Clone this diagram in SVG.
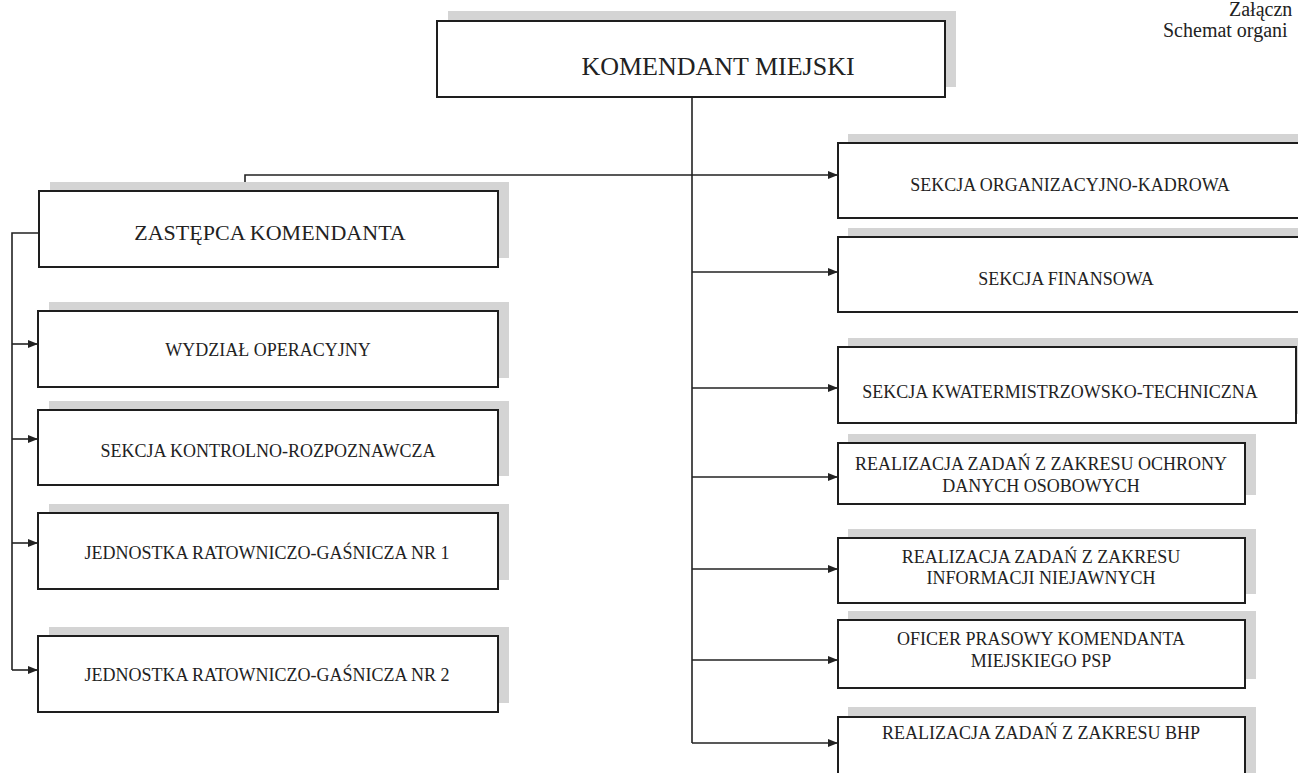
<svg xmlns="http://www.w3.org/2000/svg" width="1298" height="773" viewBox="0 0 1298 773">
<style>
.bg{fill:#fff}
.shadow{fill:#d4d4d4}
.box{fill:#fff;stroke:#1e1e1e;stroke-width:2}
.t{font-family:"Liberation Serif","Times New Roman",serif;fill:#222;text-anchor:middle;font-size:18px}
.big{font-size:22px}
.huge{font-size:26px}
.hdr{font-family:"Liberation Serif","Times New Roman",serif;fill:#222;font-size:20px}
.conn{fill:none;stroke:#222;stroke-width:1.6}
.arr{marker-end:url(#ah)}
</style>
<defs>
<marker id="ah" markerWidth="10" markerHeight="8" refX="10" refY="4" orient="auto" markerUnits="userSpaceOnUse">
<path d="M0,0 L10,4 L0,8 z" fill="#222"/>
</marker>
</defs>
<rect class="bg" x="0" y="0" width="1298" height="773"/>

<g id="header">
<text class="hdr" x="1229" y="16">Załączn</text>
<text class="hdr" x="1163" y="37">Schemat organi</text>
</g>

<g id="connectors">
<path class="conn" d="M692,97 V743"/>
<path class="conn arr" d="M245,191 V175 H838"/>
<path class="conn arr" d="M692,272 H838"/>
<path class="conn arr" d="M692,388 H838"/>
<path class="conn arr" d="M692,477 H838"/>
<path class="conn arr" d="M692,569 H838"/>
<path class="conn arr" d="M692,660 H838"/>
<path class="conn arr" d="M692,743 H838"/>
<path class="conn" d="M39,233 H12 V670"/>
<path class="conn arr" d="M12,344 H38"/>
<path class="conn arr" d="M12,439 H38"/>
<path class="conn arr" d="M12,543 H38"/>
<path class="conn arr" d="M12,670 H38"/>
</g>

<g id="n-komendant">
<rect class="shadow" x="448" y="11" width="508" height="76"/>
<rect class="box" x="437" y="21" width="508" height="76"/>
<text class="t huge" x="718" y="75">KOMENDANT MIEJSKI</text>
</g>

<g id="n-zastepca">
<rect class="shadow" x="50" y="182" width="459" height="76"/>
<rect class="box" x="39" y="191" width="459" height="76"/>
<text class="t big" x="270" y="240">ZASTĘPCA KOMENDANTA</text>
</g>

<g id="n-wydzial">
<rect class="shadow" x="49" y="302" width="460" height="76"/>
<rect class="box" x="38" y="311" width="460" height="76"/>
<text class="t" x="268" y="356">WYDZIAŁ OPERACYJNY</text>
</g>

<g id="n-kontrolno">
<rect class="shadow" x="49" y="401" width="460" height="75"/>
<rect class="box" x="38" y="410" width="460" height="75"/>
<text class="t" x="268" y="457">SEKCJA KONTROLNO-ROZPOZNAWCZA</text>
</g>

<g id="n-jrg1">
<rect class="shadow" x="49" y="504" width="460" height="76"/>
<rect class="box" x="38" y="513" width="460" height="76"/>
<text class="t" x="267" y="559">JEDNOSTKA RATOWNICZO-GAŚNICZA NR 1</text>
</g>

<g id="n-jrg2">
<rect class="shadow" x="49" y="627" width="460" height="76"/>
<rect class="box" x="38" y="636" width="460" height="76"/>
<text class="t" x="267" y="681">JEDNOSTKA RATOWNICZO-GAŚNICZA NR 2</text>
</g>

<g id="n-kadrowa">
<rect class="shadow" x="848" y="134" width="470" height="75"/>
<rect class="box" x="838" y="143" width="470" height="75"/>
<text class="t" x="1070" y="191">SEKCJA ORGANIZACYJNO-KADROWA</text>
</g>

<g id="n-finansowa">
<rect class="shadow" x="848" y="228" width="470" height="75"/>
<rect class="box" x="838" y="237" width="470" height="75"/>
<text class="t" x="1066" y="285">SEKCJA FINANSOWA</text>
</g>

<g id="n-kwatermistrz">
<rect class="shadow" x="848" y="338" width="458" height="76"/>
<rect class="box" x="838" y="347" width="458" height="76"/>
<text class="t" x="1060" y="398">SEKCJA KWATERMISTRZOWSKO-TECHNICZNA</text>
</g>

<g id="n-ochrona">
<rect class="shadow" x="848" y="434" width="408" height="61"/>
<rect class="box" x="838" y="443" width="407" height="61"/>
<text class="t" x="1041" y="470">REALIZACJA ZADAŃ Z ZAKRESU OCHRONY</text>
<text class="t" x="1041" y="492">DANYCH OSOBOWYCH</text>
</g>

<g id="n-niejawne">
<rect class="shadow" x="848" y="529" width="408" height="65"/>
<rect class="box" x="838" y="538" width="407" height="65"/>
<text class="t" x="1041" y="563">REALIZACJA ZADAŃ Z ZAKRESU</text>
<text class="t" x="1041" y="584">INFORMACJI NIEJAWNYCH</text>
</g>

<g id="n-oficer">
<rect class="shadow" x="848" y="611" width="408" height="68"/>
<rect class="box" x="838" y="620" width="407" height="68"/>
<text class="t" x="1041" y="645">OFICER PRASOWY KOMENDANTA</text>
<text class="t" x="1041" y="667">MIEJSKIEGO PSP</text>
</g>

<g id="n-bhp">
<rect class="shadow" x="848" y="707" width="408" height="80"/>
<rect class="box" x="838" y="717" width="407" height="80"/>
<text class="t" x="1041" y="739">REALIZACJA ZADAŃ Z ZAKRESU BHP</text>
</g>
</svg>
